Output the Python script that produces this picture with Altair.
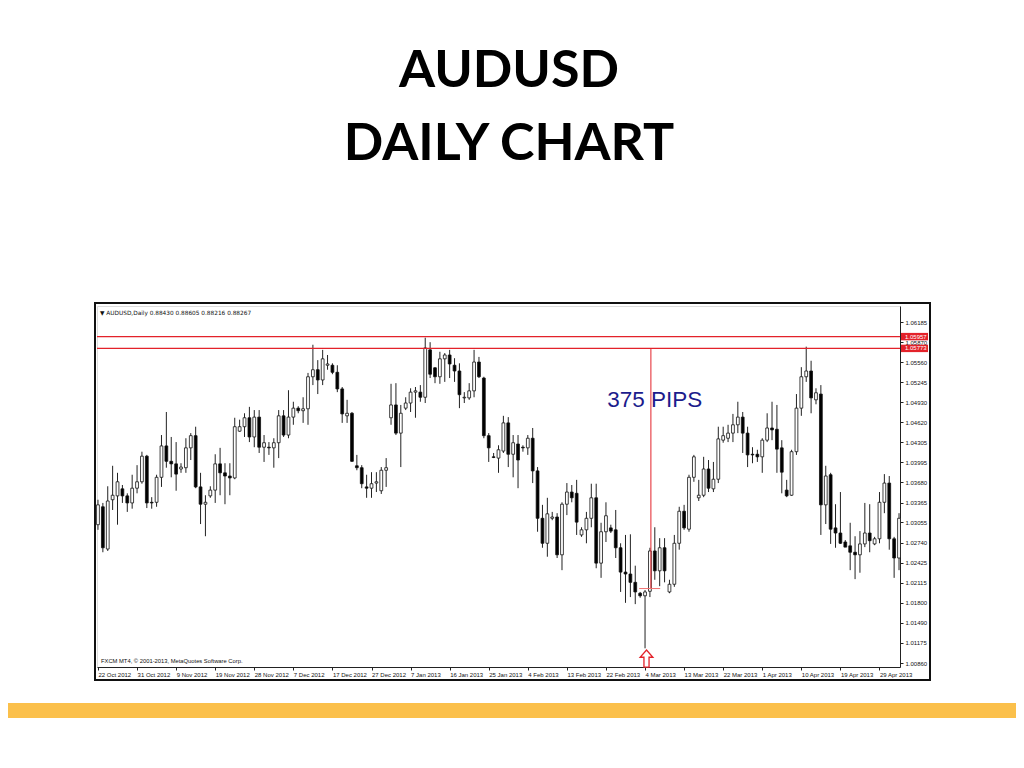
import altair as alt
import pandas as pd

# ---------------- text / labels ----------------
title_lines = ["AUDUSD", "DAILY CHART"]
header_text = "\u25bc AUDUSD,Daily  0.88430 0.88605 0.88216 0.88267"
footer_text = "FXCM MT4, \u00a9 2001-2013, MetaQuotes Software Corp."
date_labels = ["22 Oct 2012", "31 Oct 2012", "9 Nov 2012", "19 Nov 2012", "28 Nov 2012",
               "7 Dec 2012", "17 Dec 2012", "27 Dec 2012", "7 Jan 2013", "16 Jan 2013",
               "25 Jan 2013", "4 Feb 2013", "13 Feb 2013", "22 Feb 2013", "4 Mar 2013",
               "13 Mar 2013", "22 Mar 2013", "1 Apr 2013", "10 Apr 2013", "19 Apr 2013",
               "29 Apr 2013"]
date_label_step = 8
price_ticks = [1.06185, 1.05870, 1.05560, 1.05245, 1.04930, 1.04620, 1.04305, 1.03995,
               1.03680, 1.03365, 1.03055, 1.02740, 1.02425, 1.02115, 1.01800, 1.01490,
               1.01175, 1.00860]
level_prices = [1.05957, 1.05773]
pips_label = "375 PIPS"
pips_bar = 113.2
pips_top = 1.05773
pips_bottom = 1.02023
pips_base_from = 110.8
pips_base_to = 115.1
pips_text_bar = 114.0
pips_text_price = 1.0497
arrow_bar = 112.3
arrow_price = 1.0093

# ---------------- daily candles ----------------
opens = [1.0302, 1.0330, 1.0264, 1.0341, 1.0347, 1.0358, 1.0347, 1.0336, 1.0359, 1.0369,
         1.0409, 1.0337, 1.0337, 1.0376, 1.0425, 1.0401, 1.0397, 1.0389, 1.0391, 1.0422,
         1.0441, 1.0361, 1.0334, 1.0347, 1.0356, 1.0397, 1.0383, 1.0378, 1.0375, 1.0448,
         1.0455, 1.0469, 1.0439, 1.0470, 1.0423, 1.0423, 1.0422, 1.0430, 1.0472, 1.0442,
         1.0470, 1.0484, 1.0480, 1.0483, 1.0533, 1.0544, 1.0528, 1.0551, 1.0551, 1.0540,
         1.0514, 1.0472, 1.0476, 1.0394, 1.0391, 1.0361, 1.0359, 1.0367, 1.0355, 1.0387,
         1.0469, 1.0489, 1.0445, 1.0484, 1.0492, 1.0509, 1.0509, 1.0501, 1.0575, 1.0547,
         1.0533, 1.0561, 1.0567, 1.0551, 1.0542, 1.0500, 1.0500, 1.0511, 1.0556, 1.0531,
         1.0441, 1.0408, 1.0406, 1.0417, 1.0461, 1.0412, 1.0428, 1.0423, 1.0422, 1.0437,
         1.0386, 1.0312, 1.0273, 1.0312, 1.0314, 1.0255, 1.0334, 1.0353, 1.0351, 1.0286,
         1.0294, 1.0312, 1.0344, 1.0242, 1.0291, 1.0297, 1.0294, 1.0266, 1.0228, 1.0225,
         1.0212, 1.0195, 1.0191, 1.0198, 1.0261, 1.0230, 1.0266, 1.0197, 1.0209, 1.0273,
         1.0323, 1.0295, 1.0376, 1.0344, 1.0348, 1.0389, 1.0358, 1.0373, 1.0434, 1.0437,
         1.0445, 1.0458, 1.0470, 1.0445, 1.0412, 1.0412, 1.0408, 1.0434, 1.0453, 1.0451,
         1.0422, 1.0356, 1.0348, 1.0416, 1.0484, 1.0533, 1.0542, 1.0497, 1.0506, 1.0333,
         1.0380, 1.0297, 1.0289, 1.0275, 1.0269, 1.0259, 1.0255, 1.0272, 1.0289, 1.0272,
         1.0280, 1.0337, 1.0367, 1.0280, 1.0250]
highs = [1.0341, 1.0336, 1.0362, 1.0394, 1.0383, 1.0364, 1.0351, 1.0380, 1.0395, 1.0416,
         1.0411, 1.0345, 1.0380, 1.0442, 1.0478, 1.0439, 1.0431, 1.0398, 1.0437, 1.0445,
         1.0455, 1.0383, 1.0348, 1.0362, 1.0412, 1.0422, 1.0398, 1.0398, 1.0469, 1.0466,
         1.0476, 1.0486, 1.0481, 1.0481, 1.0442, 1.0431, 1.0437, 1.0481, 1.0481, 1.0512,
         1.0494, 1.0487, 1.0501, 1.0539, 1.0583, 1.0559, 1.0575, 1.0567, 1.0554, 1.0551,
         1.0517, 1.0497, 1.0478, 1.0411, 1.0395, 1.0380, 1.0384, 1.0384, 1.0392, 1.0406,
         1.0522, 1.0523, 1.0489, 1.0501, 1.0515, 1.0517, 1.0520, 1.0594, 1.0587, 1.0548,
         1.0572, 1.0570, 1.0575, 1.0562, 1.0554, 1.0509, 1.0523, 1.0575, 1.0564, 1.0533,
         1.0445, 1.0414, 1.0426, 1.0472, 1.0470, 1.0442, 1.0442, 1.0426, 1.0442, 1.0453,
         1.0392, 1.0333, 1.0344, 1.0322, 1.0320, 1.0337, 1.0367, 1.0364, 1.0372, 1.0298,
         1.0322, 1.0366, 1.0366, 1.0305, 1.0337, 1.0302, 1.0325, 1.0273, 1.0286, 1.0287,
         1.0238, 1.0197, 1.0200, 1.0266, 1.0298, 1.0281, 1.0281, 1.0216, 1.0286, 1.0330,
         1.0333, 1.0380, 1.0411, 1.0372, 1.0408, 1.0403, 1.0400, 1.0455, 1.0455, 1.0458,
         1.0475, 1.0494, 1.0478, 1.0455, 1.0423, 1.0419, 1.0437, 1.0476, 1.0494, 1.0489,
         1.0434, 1.0372, 1.0419, 1.0506, 1.0548, 1.0580, 1.0558, 1.0515, 1.0520, 1.0394,
         1.0383, 1.0334, 1.0353, 1.0278, 1.0305, 1.0284, 1.0292, 1.0336, 1.0334, 1.0283,
         1.0353, 1.0381, 1.0378, 1.0283, 1.0320]
lows = [1.0294, 1.0259, 1.0261, 1.0325, 1.0302, 1.0336, 1.0322, 1.0327, 1.0351, 1.0366,
        1.0328, 1.0327, 1.0330, 1.0361, 1.0391, 1.0376, 1.0355, 1.0383, 1.0383, 1.0403,
        1.0359, 1.0303, 1.0284, 1.0344, 1.0336, 1.0348, 1.0334, 1.0348, 1.0373, 1.0447,
        1.0439, 1.0431, 1.0423, 1.0414, 1.0400, 1.0411, 1.0391, 1.0406, 1.0439, 1.0437,
        1.0458, 1.0476, 1.0461, 1.0458, 1.0520, 1.0506, 1.0520, 1.0544, 1.0537, 1.0509,
        1.0461, 1.0461, 1.0400, 1.0387, 1.0359, 1.0344, 1.0344, 1.0353, 1.0350, 1.0361,
        1.0458, 1.0442, 1.0392, 1.0481, 1.0478, 1.0469, 1.0494, 1.0492, 1.0531, 1.0523,
        1.0522, 1.0525, 1.0531, 1.0525, 1.0484, 1.0492, 1.0497, 1.0501, 1.0531, 1.0437,
        1.0400, 1.0406, 1.0383, 1.0414, 1.0392, 1.0376, 1.0359, 1.0416, 1.0411, 1.0367,
        1.0291, 1.0266, 1.0252, 1.0309, 1.0250, 1.0231, 1.0317, 1.0337, 1.0286, 1.0283,
        1.0273, 1.0298, 1.0234, 1.0219, 1.0275, 1.0289, 1.0250, 1.0197, 1.0180, 1.0189,
        1.0178, 1.0188, 1.0109, 1.0189, 1.0216, 1.0206, 1.0212, 1.0195, 1.0205, 1.0263,
        1.0294, 1.0291, 1.0369, 1.0339, 1.0345, 1.0353, 1.0353, 1.0367, 1.0430, 1.0431,
        1.0431, 1.0445, 1.0414, 1.0392, 1.0398, 1.0400, 1.0383, 1.0431, 1.0434, 1.0383,
        1.0351, 1.0345, 1.0347, 1.0411, 1.0472, 1.0525, 1.0476, 1.0490, 1.0286, 1.0303,
        1.0272, 1.0266, 1.0272, 1.0267, 1.0231, 1.0217, 1.0227, 1.0267, 1.0259, 1.0270,
        1.0273, 1.0320, 1.0263, 1.0219, 1.0231]
closes = [1.0333, 1.0266, 1.0339, 1.0348, 1.0369, 1.0347, 1.0336, 1.0359, 1.0369, 1.0409,
          1.0336, 1.0336, 1.0376, 1.0425, 1.0401, 1.0397, 1.0381, 1.0392, 1.0422, 1.0441,
          1.0361, 1.0334, 1.0337, 1.0356, 1.0397, 1.0383, 1.0378, 1.0375, 1.0455, 1.0455,
          1.0469, 1.0439, 1.0470, 1.0423, 1.0430, 1.0422, 1.0430, 1.0472, 1.0442, 1.0470,
          1.0484, 1.0480, 1.0483, 1.0533, 1.0544, 1.0528, 1.0561, 1.0553, 1.0540, 1.0514,
          1.0475, 1.0476, 1.0401, 1.0391, 1.0366, 1.0359, 1.0366, 1.0369, 1.0387, 1.0391,
          1.0489, 1.0445, 1.0476, 1.0492, 1.0509, 1.0511, 1.0501, 1.0578, 1.0537, 1.0533,
          1.0561, 1.0567, 1.0553, 1.0542, 1.0505, 1.0501, 1.0511, 1.0556, 1.0533, 1.0441,
          1.0422, 1.0407, 1.0419, 1.0461, 1.0412, 1.0430, 1.0403, 1.0422, 1.0437, 1.0386,
          1.0312, 1.0273, 1.0319, 1.0314, 1.0255, 1.0334, 1.0353, 1.0344, 1.0306, 1.0294,
          1.0312, 1.0344, 1.0242, 1.0291, 1.0316, 1.0292, 1.0266, 1.0228, 1.0225, 1.0212,
          1.0197, 1.0191, 1.0197, 1.0261, 1.0230, 1.0266, 1.0230, 1.0209, 1.0273, 1.0323,
          1.0297, 1.0376, 1.0408, 1.0348, 1.0389, 1.0359, 1.0373, 1.0436, 1.0441, 1.0445,
          1.0458, 1.0470, 1.0445, 1.0411, 1.0411, 1.0408, 1.0434, 1.0453, 1.0450, 1.0420,
          1.0384, 1.0347, 1.0416, 1.0484, 1.0533, 1.0542, 1.0500, 1.0508, 1.0333, 1.0378,
          1.0295, 1.0289, 1.0273, 1.0267, 1.0259, 1.0255, 1.0272, 1.0289, 1.0277, 1.0280,
          1.0337, 1.0367, 1.0280, 1.0250, 1.0312]

candles = pd.DataFrame({
    "bar": list(range(len(opens))),
    "open": opens, "high": highs, "low": lows, "close": closes,
})
levels = pd.DataFrame({"price": level_prices})
one = pd.DataFrame({"k": [0]})
pips_df = pd.DataFrame({"bar": [pips_bar], "top": [pips_top], "bottom": [pips_bottom]})
base_df = pd.DataFrame({"b0": [pips_base_from], "b1": [pips_base_to], "price": [pips_bottom]})
pips_text_df = pd.DataFrame({"bar": [pips_text_bar], "price": [pips_text_price], "t": [pips_label]})
arrow_df = pd.DataFrame({"bar": [arrow_bar], "price": [arrow_price]})

W, H = 803, 361
AX_FONT = "Liberation Sans"

xscale = alt.Scale(domain=[-0.2, 164.2], nice=False, zero=False, padding=0)
yscale = alt.Scale(domain=[1.00798, 1.06435], nice=False, zero=False, padding=0)

label_js = "[" + ",".join("'%s'" % s for s in date_labels) + "]"
x_axis = alt.Axis(
    orient="bottom", values=[i * date_label_step for i in range(len(date_labels))],
    labelExpr=label_js + "[round(datum.value/%d)]" % date_label_step,
    title=None, grid=False, tickSize=3, tickColor="#222", domainColor="#222",
    labelAlign="left", labelFontSize=6, labelFont=AX_FONT, labelColor="#111",
    labelPadding=1, labelOverlap=False, labelFlush=False, labelBound=False,
)
y_axis = alt.Axis(
    orient="right", values=price_ticks, format=".5f", title=None, grid=False,
    tickSize=3, tickColor="#222", domainColor="#222", labelFontSize=6, labelFont=AX_FONT,
    labelColor="#111", labelPadding=2, labelOverlap=False, labelFlush=False,
)


def X(field):
    return alt.X(field, scale=xscale, axis=x_axis)


def Y(field):
    return alt.Y(field, scale=yscale, axis=y_axis)


wicks = alt.Chart(candles).mark_rule(color="#222", strokeWidth=1).encode(
    x=X("bar:Q"), y=Y("low:Q"), y2="high:Q",
)
bodies = alt.Chart(candles).mark_bar(width=2.8, stroke="#111", strokeWidth=0.8).encode(
    x=X("bar:Q"), y=Y("open:Q"), y2="close:Q",
    fill=alt.condition("datum.close < datum.open", alt.value("#000000"), alt.value("#ffffff")),
)

level_lines = alt.Chart(levels).mark_rule(color="#e3222a", strokeWidth=1.3).encode(
    y=Y("price:Q"), x=alt.value(0), x2=alt.value(W),
)
level_boxes = alt.Chart(levels).transform_calculate(
    top="datum.price + 0.00058", bot="datum.price - 0.00058"
).mark_rect(color="#e3222a").encode(
    y=Y("top:Q"), y2="bot:Q", x=alt.value(W + 1), x2=alt.value(W + 28),
)
level_text = alt.Chart(levels).mark_text(
    align="left", baseline="middle", fontSize=6, font=AX_FONT, color="white"
).encode(
    y=Y("price:Q"), x=alt.value(W + 5), text=alt.Text("price:Q", format=".5f"),
)

pips_line = alt.Chart(pips_df).mark_rule(color="#e3222a", strokeWidth=1).encode(
    x=X("bar:Q"), y=Y("top:Q"), y2="bottom:Q",
)
pips_base = alt.Chart(base_df).mark_rule(color="#f07070", strokeWidth=1).encode(
    x=X("b0:Q"), x2="b1:Q", y=Y("price:Q"),
)
pips_text = alt.Chart(pips_text_df).mark_text(
    fontSize=22.5, font="Liberation Sans", color="#1c1c8c", baseline="middle", align="center"
).encode(x=X("bar:Q"), y=Y("price:Q"), text="t:N")
arrow = alt.Chart(arrow_df).mark_point(
    shape="M0,-1 L0.75,-0.15 L0.3,-0.15 L0.3,1 L-0.3,1 L-0.3,-0.15 L-0.75,-0.15 Z",
    size=289, filled=False, color="#e3222a", strokeWidth=1.3, opacity=1,
).encode(x=X("bar:Q"), y=Y("price:Q"))

header = alt.Chart(one).mark_text(
    align="left", baseline="middle", fontSize=5.8, font="DejaVu Sans", color="#111"
).encode(x=alt.value(3), y=alt.value(7), text=alt.value(header_text))
footer = alt.Chart(one).mark_text(
    align="left", baseline="middle", fontSize=5.8, font=AX_FONT, color="#111"
).encode(x=alt.value(4), y=alt.value(355), text=alt.value(footer_text))

frame = alt.Chart(one).mark_rect(fill=None, stroke="#111", strokeWidth=2).encode(
    x=alt.value(-2), x2=alt.value(833), y=alt.value(-3), y2=alt.value(374)
)
yellow = alt.Chart(one).mark_rect(color="#fbc04b").encode(
    x=alt.value(-89), x2=alt.value(919), y=alt.value(397), y2=alt.value(412)
)
title1 = alt.Chart(one).mark_text(
    align="center", baseline="alphabetic", fontSize=52, fontWeight="bold", font="Lato", color="#000"
).encode(x=alt.value(412), y=alt.value(-219), text=alt.value(title_lines[0]))
title2 = alt.Chart(one).mark_text(
    align="center", baseline="alphabetic", fontSize=52, fontWeight="bold", font="Lato", color="#000"
).encode(x=alt.value(412), y=alt.value(-146), text=alt.value(title_lines[1]))

chart = alt.layer(
    wicks, bodies, level_lines, pips_line, pips_base, level_boxes, level_text,
    pips_text, arrow, header, footer, frame, yellow, title1, title2,
).properties(
    width=W, height=H,
    autosize=alt.AutoSizeParams(type="none"),
    padding={"left": 89, "top": 298, "right": 116, "bottom": 93},
).configure_view(stroke="#333", strokeWidth=1).configure(background="white")

chart.save("out.html", embed_options={"renderer": "svg", "actions": False})
